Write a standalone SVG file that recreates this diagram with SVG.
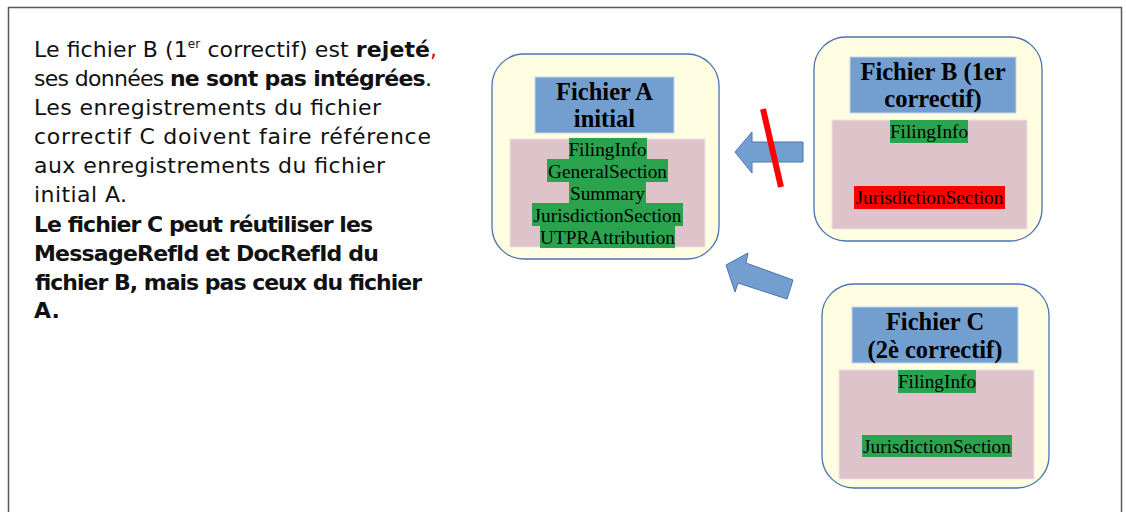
<svg xmlns="http://www.w3.org/2000/svg" width="1126" height="512" viewBox="0 0 1126 512">
<style>
.frame{fill:#fff;stroke:#595959;stroke-width:1.5}
.body{font-family:"DejaVu Sans","Noto Sans","Liberation Sans",sans-serif;font-size:22px;fill:#111}
.b{font-weight:bold}
.outer{fill:#FEFDE1;stroke:#4A74B0;stroke-width:1.3}
.title{fill:#729FCF;stroke:#C6D6EC;stroke-width:1}
.titletxt{font-family:"Liberation Serif","Times New Roman",serif;font-weight:bold;font-size:24.5px;fill:#000;text-anchor:middle}
.pink{fill:#DEC3CB;stroke:#EFE3E3;stroke-width:1}
.green{fill:#2BA34E}
.red{fill:#FF0000}
.lbl{font-family:"Liberation Serif","Times New Roman",serif;font-size:19.3px;fill:#000;text-anchor:middle}
.arrow{fill:#729FCF;stroke:#4A74B0;stroke-width:1}
</style>
<rect class="frame" x="8.5" y="7.5" width="1113" height="520"/>
<g id="text">
<text class="body" x="34" y="57" textLength="403" lengthAdjust="spacing">Le fichier B (1<tspan font-size="12" dy="-9">er</tspan><tspan dy="9"> correctif) est </tspan><tspan class="b">rejeté</tspan><tspan fill="#E1000F">,</tspan></text>
<text class="body" x="34" y="86" textLength="398" lengthAdjust="spacing">ses données <tspan class="b">ne sont pas intégrées</tspan>.</text>
<text class="body" x="34" y="115" textLength="347" lengthAdjust="spacing">Les enregistrements du fichier</text>
<text class="body" x="34" y="144" textLength="397" lengthAdjust="spacing">correctif C doivent faire référence</text>
<text class="body" x="34" y="173" textLength="351" lengthAdjust="spacing">aux enregistrements du fichier</text>
<text class="body" x="34" y="202" textLength="93" lengthAdjust="spacing">initial A.</text>
<text class="body b" x="34" y="232" textLength="339" lengthAdjust="spacing">Le fichier C peut réutiliser les</text>
<text class="body b" x="34" y="261" textLength="345" lengthAdjust="spacing">MessageRefId et DocRefId du</text>
<text class="body b" x="34" y="290" textLength="387" lengthAdjust="spacing">fichier B, mais pas ceux du fichier</text>
<text class="body b" x="34" y="318">A.</text>
</g>
<g id="fichierA">
<rect class="outer" x="492" y="54" width="227" height="205" rx="32"/>
<rect class="title" x="535" y="77" width="139" height="56"/>
<text class="titletxt" x="604.5" y="100">Fichier A</text>
<text class="titletxt" x="604.5" y="127">initial</text>
<rect class="pink" x="510" y="139" width="195" height="108"/>
<rect class="green" x="569" y="138" width="78" height="21"/>
<rect class="green" x="547" y="159" width="121" height="23"/>
<rect class="green" x="569" y="182" width="77" height="21"/>
<rect class="green" x="532" y="203" width="151" height="23"/>
<rect class="green" x="540" y="226" width="135" height="22"/>
<text class="lbl" x="607.5" y="156">FilingInfo</text>
<text class="lbl" x="607.5" y="178">GeneralSection</text>
<text class="lbl" x="607.5" y="200">Summary</text>
<text class="lbl" x="607.5" y="222">JurisdictionSection</text>
<text class="lbl" x="607.5" y="244">UTPRAttribution</text>
</g>
<g id="fichierB">
<rect class="outer" x="814" y="37" width="228" height="204" rx="32"/>
<rect class="title" x="850" y="57" width="166" height="56"/>
<text class="titletxt" x="933" y="80">Fichier B (1er</text>
<text class="titletxt" x="933" y="107">correctif)</text>
<rect class="pink" x="832" y="120" width="195" height="109"/>
<rect class="green" x="890" y="120" width="78" height="23"/>
<rect class="red" x="854" y="186" width="151" height="23"/>
<text class="lbl" x="929" y="138">FilingInfo</text>
<text class="lbl" x="929.5" y="204">JurisdictionSection</text>
</g>
<g id="fichierC">
<rect class="outer" x="822" y="284" width="227" height="204" rx="32"/>
<rect class="title" x="852" y="307" width="166" height="56"/>
<text class="titletxt" x="935" y="330">Fichier C</text>
<text class="titletxt" x="935" y="358">(2è correctif)</text>
<rect class="pink" x="839" y="370" width="195" height="109"/>
<rect class="green" x="898" y="370" width="78" height="23"/>
<rect class="green" x="862" y="435" width="150" height="22"/>
<text class="lbl" x="937" y="388">FilingInfo</text>
<text class="lbl" x="937" y="453">JurisdictionSection</text>
</g>
<g id="connectors">
<path class="arrow" d="M735,152 L752,132 L752,142 L803,142 L803,162 L752,162 L752,173 Z"/>
<line x1="763" y1="109" x2="781" y2="187" stroke="#FF0000" stroke-width="6"/>
<path class="arrow" d="M726,265 L748,253 L746,263 L793,280 L787,299 L738,283 L735,292 Z"/>
</g>
</svg>
